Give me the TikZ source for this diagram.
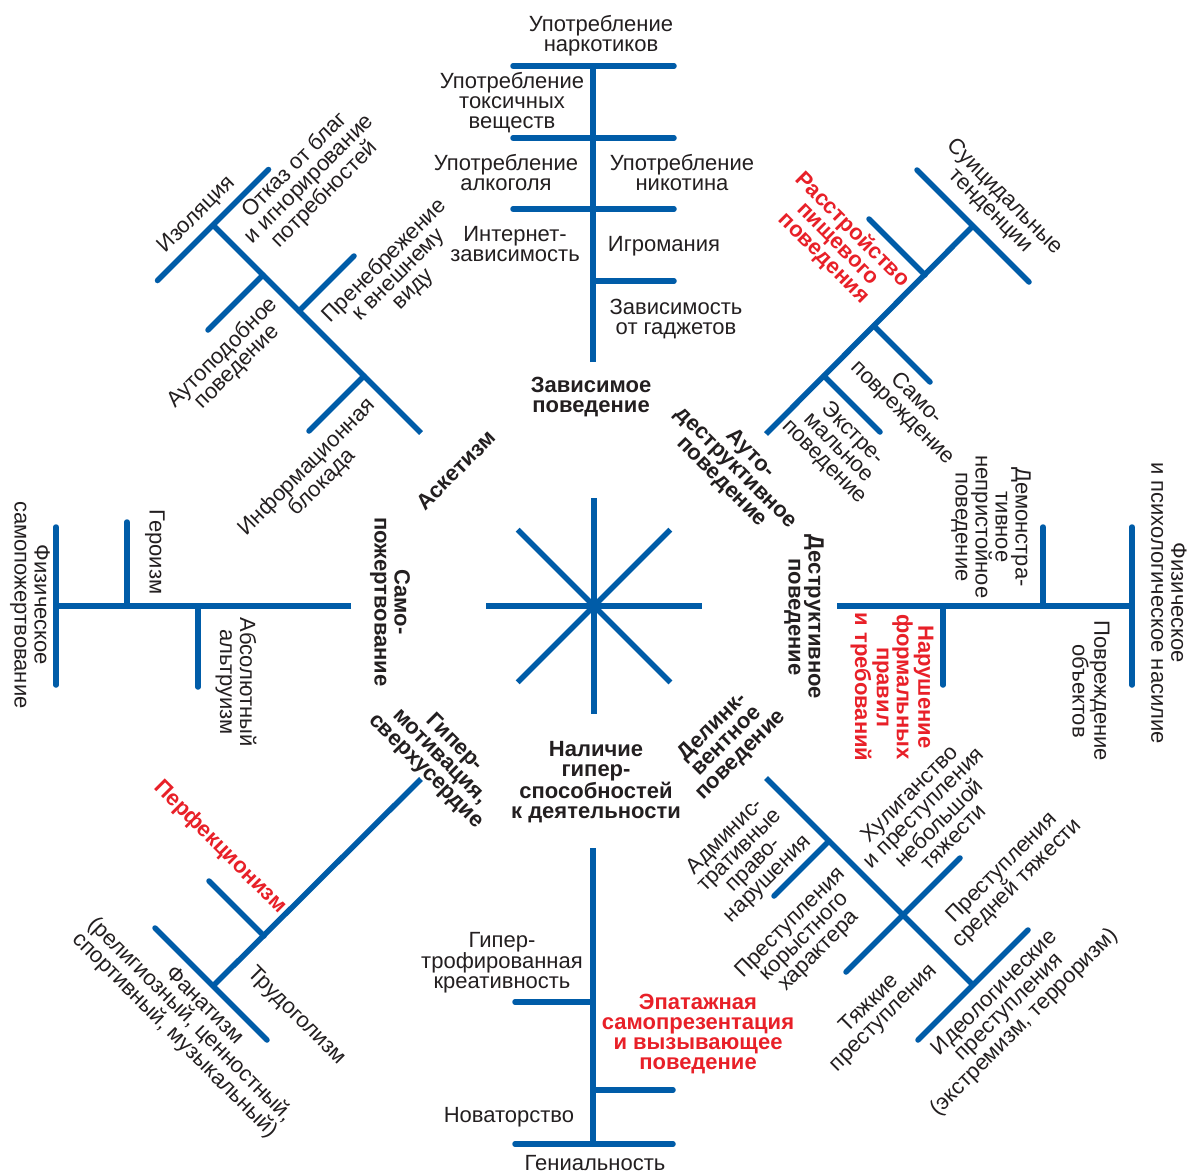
\documentclass[tikz,border=0pt]{standalone}
\usepackage{fontspec}
\setmainfont{Liberation Sans}
\usepackage{tikz}
\usetikzlibrary{positioning}
\definecolor{bblue}{RGB}{0,92,168}
\definecolor{hotred}{RGB}{232,32,40}
\definecolor{ink}{RGB}{35,31,32}
\tikzset{%
	spine/.style = {draw=bblue, line width=5.5pt}, % branch line
	tick/.style  = {draw=bblue, line width=5.5pt, line cap=round}, % side line
	lbl/.style   = {text=ink, align=center, inner sep=0pt, font=\fontsize{22}{20}\selectfont},
	head/.style  = {lbl, font=\fontsize{22}{20}\selectfont\bfseries}, % branch title
	hot/.style   = {head, text=hotred}, % red title
}

\begin{document}
\begin{tikzpicture}[x=1pt,y=-1pt]
	\useasboundingbox (0,0) rectangle (1192,1173);
	\coordinate (c) at (594,606);
	\foreach \a in {0,45,...,315} \draw[spine] (c) -- ++(\a:108);

	% top branch
	\coordinate (top0) at (593,362);
	\coordinate (top1) at (593,281);
	\coordinate (top2) at (593,209);
	\coordinate (top3) at (593,138);
	\coordinate (top4) at (593,66);
	\draw[spine] (top0) -- (top4);
	\draw[tick] (top4) ++(-80,0) -- ++(161,0);
	\draw[tick] (top3) ++(-80,0) -- ++(161,0);
	\draw[tick] (top2) ++(-80,0) -- ++(161,0);
	\draw[tick] (top1) -- ++(81,0);
	\node[lbl] (narc) at (601,35.5) {Употребление\\наркотиков};
	\node[lbl] (tox) at (512,102.5) {Употребление\\токсичных\\веществ};
	\node[lbl] (alc) at (506,172.5) {Употребление\\алкоголя};
	\node[lbl] (nic) at (682,172.5) {Употребление\\никотина};
	\node[lbl] (net) at (515,244) {Интернет-\\зависимость};
	\node[lbl] (game) at (664,246.5) {Игромания};
	\node[lbl] (gadget) at (676,319.5) {Зависимость\\от гаджетов};
	\node[head] (addict) at (591,397) {Зависимое\\поведение};

	% top left branch
	\coordinate (tl0) at (421,433);
	\coordinate (tl1) at (364,376);
	\coordinate (tl2) at (299,311);
	\coordinate (tl3) at (263,275);
	\coordinate (tl4) at (213,225);
	\draw[spine] (tl0) -- (tl4);
	\draw[tick] (tl4) ++(-55.5,55.5) -- ++(111,-111);
	\draw[tick] (tl3) -- ++(-55,55);
	\draw[tick] (tl2) -- ++(55,-55);
	\draw[tick] (tl1) -- ++(-55,55);
	\node[lbl,rotate=45] (isol) at (197,215) {Изоляция};
	\node[lbl,rotate=45] (refuse) at (310,180) {Отказ от благ\\и игнорирование\\потребностей};
	\node[lbl,rotate=45] (autlike) at (230,360) {Аутоподобное\\поведение};
	\node[lbl,rotate=45] (neglect) at (399,275) {Пренебрежение\\к внешнему\\виду};
	\node[lbl,rotate=45] (infblock) at (315,475) {Информационная\\блокада};
	\node[head,rotate=45] (ascet) at (456,470) {Аскетизм};

	% top right branch
	\coordinate (tr0) at (766,434);
	\coordinate (tr1) at (824,376);
	\coordinate (tr2) at (874,326);
	\coordinate (tr3) at (925,275);
	\coordinate (tr4) at (973,226);
	\draw[spine] (tr0) -- (tr4);
	\draw[tick] (tr4) ++(-56,-56) -- ++(112,112);
	\draw[tick] (tr3) -- ++(-56,-56);
	\draw[tick] (tr2) -- ++(56,56);
	\draw[tick] (tr1) -- ++(56,56);
	\node[lbl,rotate=-45] (suic) at (997,204) {Суицидальные\\тенденции};
	\node[hot,rotate=-45] (eat) at (838,244) {Расстройство\\пищевого\\поведения};
	\node[lbl,rotate=-45] (selfharm) at (909,406) {Само-\\повреждение};
	\node[lbl,rotate=-45] (extreme) at (838,448) {Экстре-\\мальное\\поведение};
	\node[head,rotate=-45] (autodes) at (736,468) {Ауто-\\деструктивное\\поведение};

	% left branch
	\coordinate (lf0) at (351,606);
	\coordinate (lf1) at (198,606);
	\coordinate (lf2) at (127,606);
	\coordinate (lf3) at (56,606);
	\draw[spine] (lf0) -- (lf3);
	\draw[tick] (lf3) ++(0,-79) -- ++(0,158);
	\draw[tick] (lf2) -- ++(0,-84);
	\draw[tick] (lf1) -- ++(0,81);
	\node[lbl,rotate=-90] (physsac) at (30,605) {Физическое\\самопожертвование};
	\node[lbl,rotate=-90] (hero) at (155,552) {Героизм};
	\node[lbl,rotate=-90] (altru) at (236,682) {Абсолютный\\альтруизм};
	\node[head,rotate=-90] (sacr) at (390,602) {Само-\\пожертвование};

	% right branch
	\coordinate (rt0) at (837,606);
	\coordinate (rt1) at (943,606);
	\coordinate (rt2) at (1043,606);
	\coordinate (rt3) at (1132,606);
	\draw[spine] (rt0) -- (rt3);
	\draw[tick] (rt3) ++(0,-79) -- ++(0,158);
	\draw[tick] (rt2) -- ++(0,-79);
	\draw[tick] (rt1) -- ++(0,79);
	\node[head,rotate=-90] (destr) at (804,617) {Деструктивное\\поведение};
	\node[lbl,rotate=-90] (demo) at (991,527) {Демонстра-\\тивное\\непристойное\\поведение};
	\node[lbl,rotate=-90] (viol) at (1169,603) {Физическое\\и психологическое насилие};
	\node[hot,rotate=-90] (rules) at (892,687) {Нарушение\\формальных\\правил\\и требований};
	\node[lbl,rotate=-90] (damage) at (1091,691) {Повреждение\\объектов};

	% bottom left branch
	\coordinate (bl0) at (421,779);
	\coordinate (bl1) at (264,936);
	\coordinate (bl2) at (213,986);
	\draw[spine] (bl0) -- (bl2);
	\draw[tick] (bl2) ++(-58,-58) -- ++(112,112);
	\draw[tick] (bl1) -- ++(-55,-55);
	\node[head,rotate=-45] (hypmot) at (440,757) {Гипер-\\мотивация,\\сверхусердие};
	\node[hot,rotate=-45] (perf) at (220,847) {Перфекционизм};
	\node[lbl,rotate=-45] (fanat) at (189,1021) {Фанатизм\\(религиозный, ценностный,\\спортивный, музыкальный)};
	\node[lbl,rotate=-45] (work) at (296,1016) {Трудоголизм};

	% bottom right branch
	\coordinate (br0) at (766,778);
	\coordinate (br1) at (829,841);
	\coordinate (br2) at (903,915);
	\coordinate (br3) at (973,985);
	\draw[spine] (br0) -- (br3);
	\draw[tick] (br3) ++(55,-55) -- ++(-110,110);
	\draw[tick] (br2) ++(57,-57) -- ++(-114,114);
	\draw[tick] (br1) -- ++(-55,55);
	\node[head,rotate=45] (delinq) at (727,741) {Делинк-\\вентное\\поведение};
	\node[lbl,rotate=45] (admin) at (747,858) {Админис-\\тративные\\право-\\нарушения};
	\node[lbl,rotate=45] (hool) at (931,815) {Хулиганство\\и преступления\\небольшой\\тяжести};
	\node[lbl,rotate=45] (greed) at (805,937) {Преступления\\корыстного\\характера};
	\node[lbl,rotate=45] (middle) at (1010,876) {Преступления\\средней тяжести};
	\node[lbl,rotate=45] (grave) at (877,1011) {Тяжкие\\преступления};
	\node[lbl,rotate=45] (ideo) at (1010,1008) {Идеологические\\преступления\\(экстремизм, терроризм)};

	% bottom branch
	\coordinate (bt0) at (593,848);
	\coordinate (bt1) at (593,1002);
	\coordinate (bt2) at (593,1090);
	\coordinate (bt3) at (593,1144);
	\draw[spine] (bt0) -- (bt3);
	\draw[tick] (bt1) -- ++(-78,0);
	\draw[tick] (bt2) -- ++(80,0);
	\draw[tick] (bt3) ++(-78,0) -- ++(158,0);
	\node[head] (gifted) at (596,782) {Наличие\\гипер-\\способностей\\к деятельности};
	\node[lbl] (creat) at (502,962.5) {Гипер-\\трофированная\\креативность};
	\node[hot] (epat) at (698,1034) {Эпатажная\\самопрезентация\\и вызывающее\\поведение};
	\node[lbl] (innov) at (509,1117.5) {Новаторство};
	\node[lbl] (genius) at (595,1163) {Гениальность};
\end{tikzpicture}
\end{document}
